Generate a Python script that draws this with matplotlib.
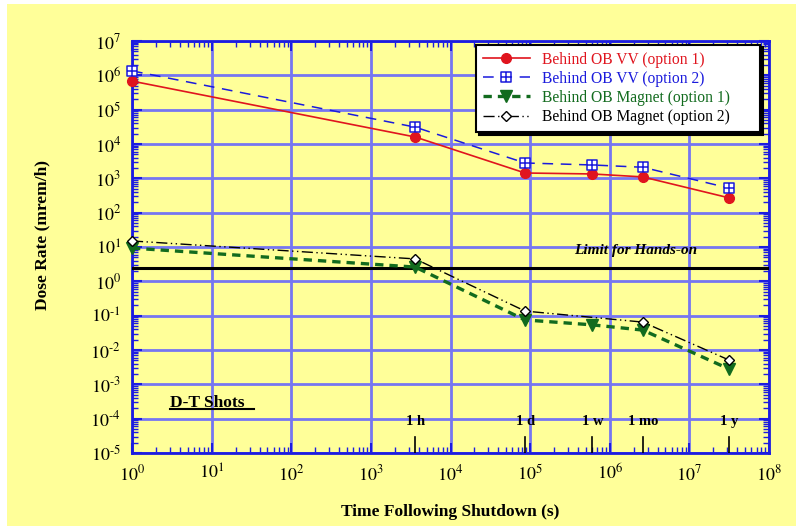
import matplotlib
matplotlib.use("Agg")
import matplotlib.pyplot as plt
from matplotlib.path import Path
from matplotlib.ticker import LogLocator, NullFormatter, FuncFormatter
from matplotlib.patches import Rectangle
import numpy as np

plt.rcParams["font.family"] = ["Liberation Serif", "DejaVu Serif"]
plt.rcParams["mathtext.fontset"] = "stix"

# time after shutdown (s)
t_vv = [1, 3600, 86400, 604800, 2.6e6, 3.15e7]
t_mag2 = [1, 3600, 86400, 2.6e6, 3.15e7]

vv_opt1 = [6.8e5, 1.6e4, 1.43e3, 1.34e3, 1.1e3, 2.7e2]
vv_opt2 = [1.35e6, 3.1e4, 2.8e3, 2.45e3, 2.1e3, 5.2e2]
mag_opt1 = [9.3, 2.6, 0.075, 0.054, 0.038, 2.8e-3]
mag_opt2 = [15.0, 4.5, 0.136, 0.065, 5.1e-3]

limit_hands_on = 2.5

marks_t = [3600, 86400, 604800, 2.6e6, 3.15e7]
marks_lbl = ["1 h", "1 d", "1 w", "1 mo", "1 y"]

yellow = "#ffff99"
gridblue = "#7676f2"
spineblue = "#1c1ce0"


def pow10(v, pos):
    e = int(round(np.log10(v)))
    if e < 0:
        return r"$10^{\text{-}%d}$" % (-e)
    return r"$10^{%d}$" % e


fig = plt.figure(figsize=(7.96, 5.26), dpi=100, facecolor="white")
fig.patches.append(Rectangle((7 / 796, 0), 1, 1 - 4 / 526, transform=fig.transFigure,
                             facecolor=yellow, edgecolor="none", zorder=-10))
ax = fig.add_axes([132 / 796, 73 / 526, 637 / 796, 412 / 526])
ax.set_facecolor(yellow)

ax.set_xscale("log")
ax.set_yscale("log")
ax.set_xlim(1, 1e8)
ax.set_ylim(1e-5, 1e7)

# square with a cross inside
sq_plus = Path(
    [(-1, -1), (1, -1), (1, 1), (-1, 1), (-1, -1), (0, -1), (0, 1), (-1, 0), (1, 0)],
    [Path.MOVETO, Path.LINETO, Path.LINETO, Path.LINETO, Path.CLOSEPOLY,
     Path.MOVETO, Path.LINETO, Path.MOVETO, Path.LINETO],
)

ax.plot(t_vv, vv_opt1, color="#e0141e", lw=1.2, marker="o", ms=7,
        label="Behind OB VV (option 1)", zorder=5, clip_on=False)
ax.plot(t_vv, vv_opt2, color="#1a1adc", lw=1.1, dashes=(7, 5), marker=sq_plus, ms=6.5,
        mfc="white", mec="#1a1adc", mew=1.1, label="Behind OB VV (option 2)", zorder=5,
        clip_on=False)
ax.plot(t_vv, mag_opt1, color="#126b1e", lw=2.4, dashes=(2.5, 1.8), marker="v", ms=8,
        label="Behind OB Magnet (option 1)", zorder=5, clip_on=False)
ax.plot(t_mag2, mag_opt2, color="black", lw=1.0, dashes=(8, 2.5, 1, 2.5, 1, 2.5), marker="D",
        ms=5, mfc="white", mec="black", mew=1.0, label="Behind OB Magnet (option 2)", zorder=5,
        clip_on=False)

ax.axhline(limit_hands_on, color="black", lw=2.2, zorder=4)
ax.text(2.1e6, 8.0, "Limit for Hands-on", fontsize=11, fontweight="bold", style="italic",
        ha="center", va="center")

# time markers along the bottom
for tm, lb in zip(marks_t, marks_lbl):
    ax.plot([tm, tm], [1e-5, 3e-5], color="black", lw=1.2, zorder=4)
    ax.text(tm, 8.0e-5, lb, fontsize=10.5, fontweight="bold", ha="center", va="center")

ax.text(3, 2.9e-4, "D-T Shots", fontsize=12.5, fontweight="bold", ha="left", va="center")
ax.plot([3, 34], [1.85e-4, 1.85e-4], color="black", lw=1.5, zorder=4)

ax.xaxis.set_major_locator(LogLocator(base=10, numticks=20))
ax.yaxis.set_major_locator(LogLocator(base=10, numticks=20))
ax.xaxis.set_minor_locator(LogLocator(base=10, subs=range(2, 10), numticks=20))
ax.yaxis.set_minor_locator(LogLocator(base=10, subs=range(2, 10), numticks=20))
ax.xaxis.set_major_formatter(FuncFormatter(pow10))
ax.yaxis.set_major_formatter(FuncFormatter(pow10))
ax.xaxis.set_minor_formatter(NullFormatter())
ax.yaxis.set_minor_formatter(NullFormatter())

ax.grid(True, which="major", color=gridblue, lw=2, zorder=1)
ax.set_axisbelow(True)
ax.tick_params(which="both", direction="in", color=spineblue, top=True, right=True,
               labelsize=13, labelcolor="black")
ax.tick_params(which="major", length=7, width=1.5, pad=8)
ax.tick_params(which="minor", length=4, width=1)
for s in ax.spines.values():
    s.set_color(spineblue)
    s.set_linewidth(2)

ax.set_xlabel("Time Following Shutdown (s)", fontsize=12.5, fontweight="bold")
ax.set_ylabel("Dose Rate (mrem/h)", fontsize=12.5, fontweight="bold")
ax.xaxis.set_label_coords(0.5, -0.125)
ax.yaxis.set_label_coords(-0.128, 0.529)

pad = "      "
leg = ax.legend(loc="upper right", bbox_to_anchor=(0.986, 0.991), fontsize=11.2,
                handlelength=3.0, frameon=True, fancybox=False, framealpha=1,
                edgecolor="black", facecolor="white", borderpad=0.45, labelspacing=0.2,
                borderaxespad=0, shadow={"color": "black", "alpha": 1})
leg.get_frame().set_linewidth(1.5)
for txt, ln in zip(leg.get_texts(), leg.get_lines()):
    txt.set_color(ln.get_color())
    txt.set_text(txt.get_text() + pad)

fig.savefig("out.png", dpi=100, facecolor=fig.get_facecolor())
